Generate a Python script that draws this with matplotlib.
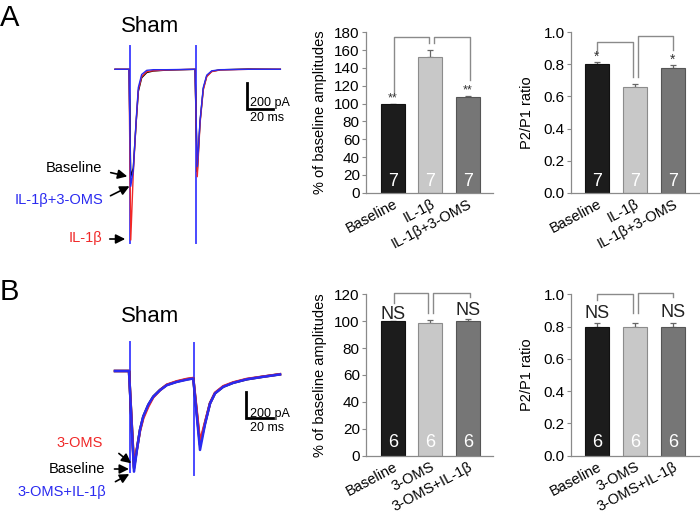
import matplotlib.pyplot as plt

plt.rcParams['font.family'] = ['Liberation Sans', 'DejaVu Sans']

# ---- data ----
# panel A traces (time in ms, current in pA)
a_t = [0, 10.5, 11.8, 13.7, 15.8, 17.5, 20.0, 23.8, 28.7, 38.8, 60.0,
       61.7, 63.8, 66.2, 68.8, 72.5, 78.8, 100, 124]
a_base = [0, 0, -826, -760, -420, -170, -65, -25, -13, -6, 0,
          -787, -400, -150, -52, -16, -4, 2, 0]
a_il1b = [0, 0, -1313, -800, -415, -159, -57, -18, -11, -5, 0,
          -826, -415, -159, -57, -18, -5, 0, 0]
a_il1b_oms = [0, 0, -900, -780, -400, -140, -40, -8, -3, -3, 0,
              -748, -395, -140, -45, -12, -3, 0, 0]
a_stim = [11.25, 60.4]

# panel B traces
b_t = [0, 10.5, 14.25, 16.3, 18.75, 21.2, 25, 28.7, 33.75, 38.8, 46.3, 53.8, 58.7,
       63.75, 67.5, 71.25, 75, 81.2, 88.7, 98.8, 111.2, 123.75]
b_base = [0, 0, -739, -600, -448, -347, -258, -195, -144, -106, -81, -63, -55,
          -562, -397, -245, -169, -119, -89, -63, -43, -25]
b_oms = [0, 0, -727, -600, -455, -360, -270, -200, -146, -104, -78, -60, -53,
         -537, -390, -245, -165, -115, -86, -60, -42, -24]
b_oms_il1b = [0, 0, -765, -610, -445, -345, -255, -195, -146, -108, -83, -66, -57,
              -600, -405, -248, -170, -120, -90, -63, -44, -26]
b_stim = [11.25, 59.5]

# bar charts
a_labels = ['Baseline', 'IL-1β', 'IL-1β+3-OMS']
a_amp = [100, 152.5, 107.5]
a_amp_err = [0, 7.5, 1]
a_ppr = [0.80, 0.66, 0.775]
a_ppr_err = [0.015, 0.017, 0.02]
a_n = 7

b_labels = ['Baseline', '3-OMS', '3-OMS+IL-1β']
b_amp = [100, 98.5, 100]
b_amp_err = [0, 2.5, 1.5]
b_ppr = [0.795, 0.80, 0.795]
b_ppr_err = [0.025, 0.025, 0.025]
b_n = 6

W, H = 700, 513
fig = plt.figure(figsize=(7, 5.13), dpi=100)


def box(x0, y0, x1, y1):
    return fig.add_axes([x0 / W, 1 - y1 / H, (x1 - x0) / W, (y1 - y0) / H])


def fp(x, y):
    return (x / W, 1 - y / H)


RED = '#f02828'
BLUE = '#2a2af0'
GRID = '#8a8a8a'


def traces(ax, t, base, red, blue, stim, top, bottom, lw, xlim, ylim, sb_t, sb_i):
    for s, tp, bt in zip(stim, top, bottom):
        ax.plot([s, s], [tp, bt], color='#4a4aff', lw=1.4)
    ax.plot(t, base, color='black', lw=lw)
    ax.plot(t, red, color=RED, lw=lw)
    ax.plot(t, blue, color=BLUE, lw=lw)
    # scale bar 20 ms / 200 pA
    ax.plot([sb_t, sb_t, sb_t + 20], [sb_i, sb_i - 200, sb_i - 200], color='black', lw=2,
            solid_joinstyle='miter')
    ax.set_xlim(*xlim)
    ax.set_ylim(*ylim)
    ax.axis('off')


ax = box(100, 40, 295, 250)
traces(ax, a_t, a_base, a_il1b, a_il1b_oms, a_stim, [177, 177], [-1338, -1338], 1.0,
       (-11.25, 135), (-1389.6, 225.3), 98.8, -108)
ax = box(100, 335, 295, 480)
traces(ax, b_t, b_base, b_oms, b_oms_il1b, b_stim, [223, 216], [-765, -790], 1.8,
       (-11.25, 135), (-828.4, 273.6), 98.25, -157)

# scale bar text
for y1, y2 in [(106.2, 121.0), (416.5, 431.0)]:
    fig.text(*fp(250, y1), '200 pA', fontsize=9, ha='left', va='baseline')
    fig.text(*fp(250, y2), '20 ms', fontsize=9, ha='left', va='baseline')

# panel letters and titles
fig.text(*fp(0, 17.5), 'A', fontsize=21, ha='left', va='center')
fig.text(*fp(0, 292.5), 'B', fontsize=21, ha='left', va='center')
fig.text(*fp(150, 26), 'Sham', fontsize=16, ha='center', va='center')
fig.text(*fp(150, 316.7), 'Sham', fontsize=16, ha='center', va='center')


def label(text, color, tx, ty, a0, a1):
    fig.text(*fp(tx, ty), text, color=color, fontsize=10.5, ha='right', va='center')
    fig.add_artist(plt.matplotlib.patches.FancyArrowPatch(
        fp(*a0), fp(*a1), transform=fig.transFigure, arrowstyle='-|>',
        mutation_scale=14, color='black', lw=1.2))


label('Baseline', 'black', 102, 168, (108, 172), (130, 177))
label('IL-1β+3-OMS', BLUE, 103, 200, (108, 197), (132, 185))
label('IL-1β', RED, 102, 238, (107, 239), (128, 239))
label('3-OMS', RED, 103, 442.7, (116.7, 451.7), (133.3, 465))
label('Baseline', 'black', 105, 469, (111.7, 469), (131.7, 469))
label('3-OMS+IL-1β', BLUE, 106, 492.3, (113, 483), (131.7, 472.7))

COLORS = ['#1c1c1c', '#c8c8c8', '#767676']
EDGES = ['#111111', '#8c8c8c', '#555555']


def bars(ax, vals, errs, labels, n, ymax, step, ylabel, fmt, xlim, lab_x, n_y):
    x = [0, 1, 2]
    ax.bar(x, vals, width=0.64, color=COLORS, edgecolor=EDGES, lw=0.8, zorder=2)
    ax.errorbar(x, vals, yerr=[[0, 0, 0], errs], fmt='none', ecolor='#666',
                elinewidth=0.9, capsize=2.5, capthick=0.9, zorder=1)
    for xi in x:
        ax.text(xi, n_y, str(n), color='white', ha='center', va='center', fontsize=13)
    ax.set_xlim(*xlim)
    ax.set_ylim(0, ymax)
    ticks = [i * step for i in range(int(round(ymax / step)) + 1)]
    ax.set_yticks(ticks, [fmt.format(v) for v in ticks])
    ax.set_xticks(x, labels, rotation=28, ha='right', va='top', rotation_mode='anchor')
    ax.tick_params(axis='x', length=0, pad=3, labelsize=10.5)
    ax.tick_params(axis='y', direction='out', length=3, color=GRID, labelsize=11, pad=1.5)
    for s in ['top', 'right']:
        ax.spines[s].set_visible(False)
    for s in ['left', 'bottom']:
        ax.spines[s].set_color(GRID)
        ax.spines[s].set_linewidth(0.9)
    ax.set_ylabel(ylabel, fontsize=10.5)
    ax.yaxis.set_label_coords(lab_x, 0.5)


def bracket(ax, x0, y0, x1, y1, top):
    ax.plot([x0, x0, x1, x1], [y0, top, top, y1], color=GRID, lw=1, clip_on=False)


# A: amplitudes
ax = box(366, 32.3, 493, 192.7)
bars(ax, a_amp, a_amp_err, a_labels, a_n, 180, 20, '% of baseline amplitudes', '{:.0f}',
     (-0.72, 2.67), -0.307, 12.5)
bracket(ax, 0.02, 112, 0.97, 168.4, 174.4)
bracket(ax, 1.09, 168.4, 2.05, 126.5, 174.4)
ax.text(0, 105.5, '**', ha='center', va='center', fontsize=9, color='#333')
ax.text(2, 115, '**', ha='center', va='center', fontsize=9, color='#333')

# A: paired pulse ratio
ax = box(571, 32.3, 700, 192.7)
bars(ax, a_ppr, a_ppr_err, a_labels, a_n, 1.0, 0.2, 'P2/P1 ratio', '{:.1f}',
     (-0.68, 2.71), -0.287, 0.07)
bracket(ax, 0.0, 0.88, 0.95, 0.72, 0.94)
bracket(ax, 1.07, 0.72, 2.0, 0.89, 0.977)
ax.text(0, 0.85, '*', ha='center', va='center', fontsize=10, color='#333')
ax.text(2, 0.83, '*', ha='center', va='center', fontsize=10, color='#333')

# B: amplitudes
ax = box(366, 294.3, 493, 455.7)
bars(ax, b_amp, b_amp_err, b_labels, b_n, 120, 20, '% of baseline amplitudes', '{:.0f}',
     (-0.72, 2.67), -0.307, 10)
bracket(ax, 0.03, 113.3, 0.94, 106.3, 121.2)
bracket(ax, 1.08, 106.3, 2.05, 118.2, 121.2)
ax.text(0, 105.1, 'NS', ha='center', va='center', fontsize=13, color='#222')
ax.text(2, 107.6, 'NS', ha='center', va='center', fontsize=13, color='#222')

# B: paired pulse ratio
ax = box(571, 294.3, 700, 455.7)
bars(ax, b_ppr, b_ppr_err, b_labels, b_n, 1.0, 0.2, 'P2/P1 ratio', '{:.1f}',
     (-0.68, 2.71), -0.287, 0.083)
bracket(ax, 0.0, 0.965, 0.95, 0.886, 1.0)
bracket(ax, 1.07, 0.886, 2.0, 0.985, 1.01)
ax.text(0, 0.882, 'NS', ha='center', va='center', fontsize=13, color='#222')
ax.text(2, 0.886, 'NS', ha='center', va='center', fontsize=13, color='#222')

fig.savefig('out.png', dpi=100)
